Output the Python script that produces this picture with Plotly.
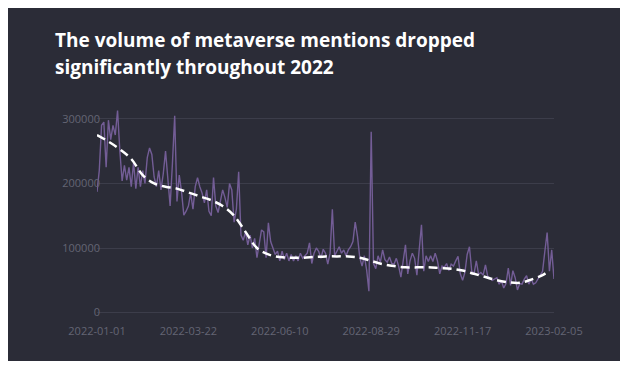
import pandas as pd
import plotly.graph_objects as go

START_DATE = "2022-01-01"
STEP_DAYS = 2

mentions = [
    187000, 220000, 290000, 295000, 225000, 298000, 268000, 290000, 275000, 313000,
    250000, 204000, 228000, 205000, 225000, 195000, 232000, 192000, 225000, 195000,
    220000, 200000, 240000, 255000, 245000, 210000, 195000, 220000, 190000, 215000,
    250000, 200000, 165000, 230000, 305000, 172000, 213000, 187000, 151000, 157000,
    165000, 185000, 160000, 195000, 209000, 195000, 185000, 170000, 190000, 157000,
    150000, 209000, 165000, 155000, 175000, 190000, 178000, 163000, 200000, 190000,
    140000, 160000, 218000, 120000, 112000, 125000, 105000, 120000, 100000, 115000,
    85000, 110000, 128000, 125000, 85000, 139000, 110000, 100000, 90000, 95000,
    80000, 95000, 82000, 92000, 80000, 90000, 80000, 88000, 80000, 92000,
    84000, 88000, 92000, 108000, 76000, 92000, 100000, 95000, 84000, 98000,
    92000, 75000, 92000, 160000, 88000, 95000, 102000, 92000, 97000, 88000,
    97000, 102000, 110000, 140000, 118000, 85000, 72000, 88000, 66000, 33000,
    280000, 76000, 68000, 88000, 78000, 97000, 82000, 78000, 86000, 76000,
    75000, 84000, 72000, 55000, 84000, 105000, 60000, 80000, 92000, 84000,
    58000, 95000, 136000, 64000, 88000, 79000, 88000, 79000, 92000, 80000,
    60000, 72000, 70000, 76000, 65000, 75000, 72000, 80000, 87000, 60000,
    50000, 62000, 90000, 102000, 64000, 60000, 80000, 59000, 62000, 58000,
    74000, 56000, 54000, 50000, 52000, 54000, 44000, 49000, 38000, 45000,
    69000, 42000, 65000, 54000, 35000, 45000, 44000, 52000, 57000, 44000,
    52000, 44000, 46000, 52000, 59000, 64000, 95000, 124000, 64000, 97000,
    52000,
]

trend_days = [0, 10, 20, 30, 40, 50, 60, 70, 80, 90, 100, 110, 120, 130, 140,
              150, 160, 170, 180, 190, 200, 210, 220, 230, 240, 250, 260, 270,
              280, 290, 300, 310, 320, 330, 340, 350, 360, 370, 380, 390, 396]
trend_values = [275000, 265000, 253000, 238000, 213000, 200000, 195000, 192000,
                186000, 180000, 174000, 165000, 150000, 125000, 100000, 90000,
                86000, 85000, 85000, 86000, 87000, 87000, 87000, 85000, 80000,
                75000, 72000, 70000, 70000, 70000, 69000, 68000, 65000, 60000,
                55000, 50000, 47000, 46000, 51000, 58000, 65000]

tick_dates = ["2022-01-01", "2022-03-22", "2022-06-10", "2022-08-29",
              "2022-11-17", "2023-02-05"]
y_ticks = [0, 100000, 200000, 300000]

title_lines = ["The volume of metaverse mentions dropped",
               "significantly throughout 2022"]

start = pd.Timestamp(START_DATE)
dates = pd.date_range(start, periods=len(mentions), freq=f"{STEP_DAYS}D")
trend_dates = [start + pd.Timedelta(days=d) for d in trend_days]

BG = "#2b2c37"
GRID = "#3c3d4a"
TICK = "#646574"

W, H = 612, 353
ML, MR, MT, MB = 89, 66, 98, 42
PW = W - ML - MR

fig = go.Figure()
fig.add_trace(go.Scatter(
    x=dates, y=mentions, mode="lines",
    line=dict(color="#735d96", width=1.4),
    hoverinfo="skip", showlegend=False,
))
fig.add_trace(go.Scatter(
    x=trend_dates, y=trend_values, mode="lines",
    line=dict(color="#ffffff", width=2.5, dash="9px,5px", shape="spline"),
    hoverinfo="skip", showlegend=False,
))

for i, (line_text, shift) in enumerate(zip(title_lines, [66, 39])):
    fig.add_annotation(
        text=line_text, xref="paper", yref="paper",
        x=(45 - ML) / PW, y=1, xanchor="left", yanchor="middle",
        yshift=shift, showarrow=False,
        font=dict(family="Open Sans", size=19, color="#ffffff", weight="bold"),
    )

fig.update_layout(
    width=W, height=H,
    paper_bgcolor=BG, plot_bgcolor=BG,
    margin=dict(l=ML, r=MR, t=MT, b=MB),
    font=dict(family="Open Sans", size=11, color=TICK),
    xaxis=dict(
        range=[start, pd.Timestamp("2023-02-05")],
        tickvals=tick_dates, ticktext=tick_dates,
        showgrid=False, zeroline=False, showline=False,
        tickfont=dict(size=11, color=TICK),
        ticklabelstandoff=4,
    ),
    yaxis=dict(
        range=[-10000, 320000],
        tickvals=y_ticks, ticktext=[str(v) for v in y_ticks],
        showgrid=True, gridcolor=GRID, gridwidth=1, zeroline=False,
        showline=False, tickfont=dict(size=11, color=TICK),
        ticklabelstandoff=-4,
    ),
)

fig.write_html("out.html")
